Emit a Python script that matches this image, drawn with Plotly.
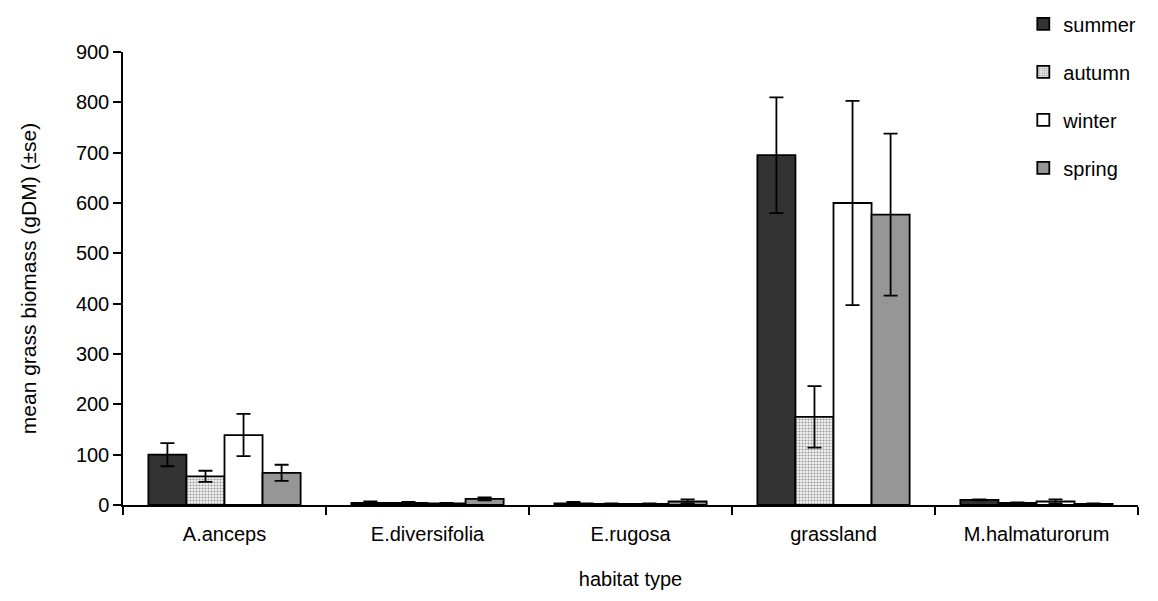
import plotly.graph_objects as go

categories = ["A.anceps", "E.diversifolia", "E.rugosa", "grassland", "M.halmaturorum"]
seasons = ["summer", "autumn", "winter", "spring"]
summer = [100, 4, 3, 695, 10]
summer_se = [23, 3, 3, 115, 1]
autumn = [57, 4, 2, 175, 4]
autumn_se = [11, 2, 1, 61, 1]
winter = [139, 3, 2, 600, 7]
winter_se = [42, 1, 1, 203, 4]
spring = [64, 12, 7, 577, 2]
spring_se = [16, 3, 4, 161, 1]

values = [summer, autumn, winter, spring]
errors = [summer_se, autumn_se, winter_se, spring_se]
colors = ["#333333", "#ffffff", "#ffffff", "#969696"]

fig = go.Figure()
for i, name in enumerate(seasons):
    marker = dict(color=colors[i], line=dict(color="black", width=1.8))
    if name == "autumn":
        marker["pattern"] = dict(shape=".", fgcolor="#9a9a9a", bgcolor="#f4f4f4",
                                 size=3, solidity=0.4, fillmode="replace")
    fig.add_trace(go.Bar(
        x=categories, y=values[i], name=name, legendgroup=name,
        marker=marker,
        error_y=dict(type="data", array=errors[i], visible=True,
                     color="black", thickness=1.8, width=7),
    ))

fig.update_layout(
    width=1158, height=601,
    margin=dict(l=123, r=20, t=52, b=96, autoexpand=False),
    paper_bgcolor="white", plot_bgcolor="white",
    barmode="group", bargap=0.25, bargroupgap=0,
    font=dict(family="Liberation Sans, Arial, sans-serif", size=20, color="black"),
    showlegend=True,
    legend=dict(x=0.887, y=1.105, xanchor="left", yanchor="top",
                font=dict(size=20), tracegroupgap=19, bgcolor="rgba(0,0,0,0)"),
    xaxis=dict(
        title=dict(text="habitat type", font=dict(size=20), standoff=28),
        showline=True, linecolor="black", linewidth=1.5,
        ticks="outside", tickson="boundaries", ticklen=8, tickwidth=1.5,
        tickcolor="black", showgrid=False, tickfont=dict(size=20),
        ticklabelstandoff=10, automargin=False,
    ),
    yaxis=dict(
        title=dict(text="mean grass biomass (gDM) (±se)", font=dict(size=21), standoff=34),
        range=[0, 900], dtick=100, showline=True, linecolor="black", linewidth=1.5,
        ticks="outside", ticklen=8, tickwidth=1.5, tickcolor="black",
        showgrid=False, zeroline=False, tickfont=dict(size=20), automargin=False,
    ),
)

fig.write_html("out.html")
